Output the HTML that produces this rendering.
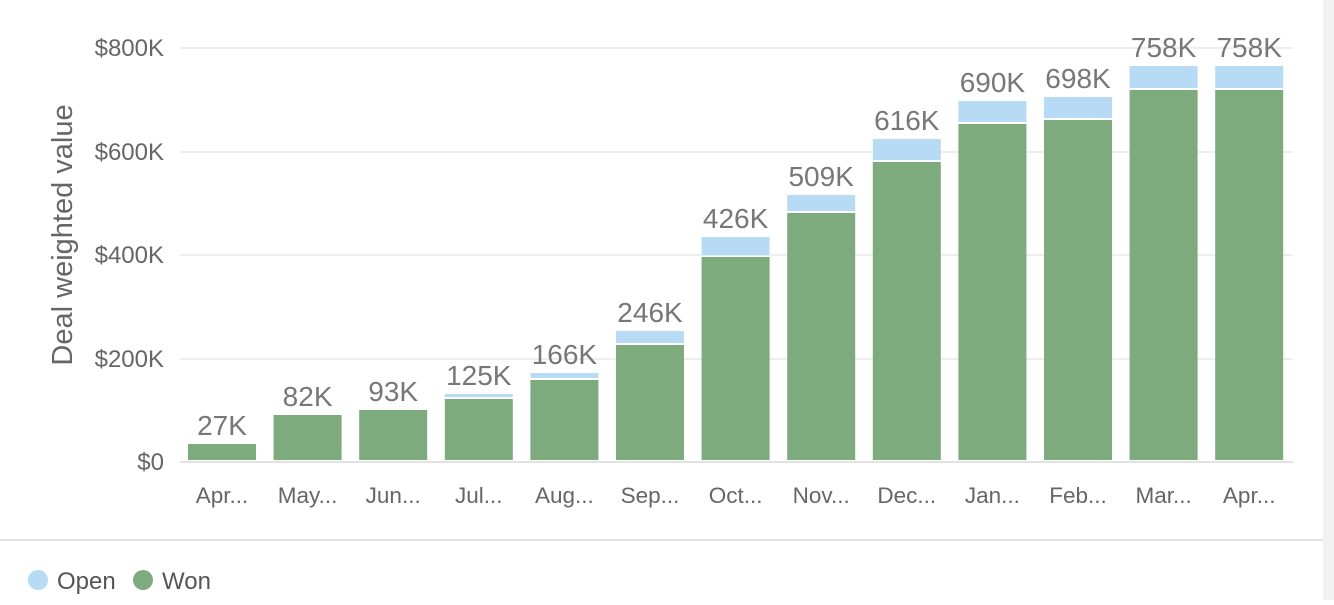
<!DOCTYPE html>
<html><head><style>
body{margin:0;background:#fff;width:1334px;height:600px;overflow:hidden;font-family:"Liberation Sans",sans-serif}
</style></head><body>
<svg width="1334" height="600" xmlns="http://www.w3.org/2000/svg" font-family="Liberation Sans, sans-serif">
<rect x="1323" y="0" width="11" height="600" fill="#f2f2f2"/>
<g stroke="#e8e8e8" stroke-width="1.5">
<line x1="180" x2="1293" y1="48" y2="48"/>
<line x1="180" x2="1293" y1="152" y2="152"/>
<line x1="180" x2="1293" y1="255" y2="255"/>
<line x1="180" x2="1293" y1="359" y2="359"/>
</g>
<line x1="180" x2="1293" y1="462" y2="462" stroke="#e2e2e2" stroke-width="2"/>
<line x1="0" x2="1323" y1="540" y2="540" stroke="#e2e2e2" stroke-width="2"/>
<g fill="#666" font-size="24" text-anchor="end">
<text x="164" y="56">$800K</text>
<text x="164" y="160">$600K</text>
<text x="164" y="263">$400K</text>
<text x="164" y="367">$200K</text>
<text x="164" y="470">$0</text>
</g>
<text transform="translate(72,235) rotate(-90)" fill="#666" font-size="29" text-anchor="middle">Deal weighted value</text>
<g>
<rect x="188" y="444" width="68" height="16" fill="#7dab7d"/>
<rect x="273.6" y="415" width="68" height="45" fill="#7dab7d"/>
<rect x="359.2" y="410" width="68" height="50" fill="#7dab7d"/>
<rect x="444.8" y="394" width="68" height="3" fill="#b7dbf5"/>
<rect x="444.8" y="399" width="68" height="61" fill="#7dab7d"/>
<rect x="530.4" y="373" width="68" height="5" fill="#b7dbf5"/>
<rect x="530.4" y="380" width="68" height="80" fill="#7dab7d"/>
<rect x="616" y="331" width="68" height="12" fill="#b7dbf5"/>
<rect x="616" y="345" width="68" height="115" fill="#7dab7d"/>
<rect x="701.6" y="237" width="68" height="18" fill="#b7dbf5"/>
<rect x="701.6" y="257" width="68" height="203" fill="#7dab7d"/>
<rect x="787.2" y="195" width="68" height="16" fill="#b7dbf5"/>
<rect x="787.2" y="213" width="68" height="247" fill="#7dab7d"/>
<rect x="872.8" y="139" width="68" height="21" fill="#b7dbf5"/>
<rect x="872.8" y="162" width="68" height="298" fill="#7dab7d"/>
<rect x="958.4" y="101" width="68" height="21" fill="#b7dbf5"/>
<rect x="958.4" y="124" width="68" height="336" fill="#7dab7d"/>
<rect x="1044" y="97" width="68" height="21" fill="#b7dbf5"/>
<rect x="1044" y="120" width="68" height="340" fill="#7dab7d"/>
<rect x="1129.6" y="66" width="68" height="22" fill="#b7dbf5"/>
<rect x="1129.6" y="90" width="68" height="370" fill="#7dab7d"/>
<rect x="1215.2" y="66" width="68" height="22" fill="#b7dbf5"/>
<rect x="1215.2" y="90" width="68" height="370" fill="#7dab7d"/>
</g>
<g fill="#666" font-size="22.5" text-anchor="middle">
<text x="222" y="503">Apr...</text>
<text x="307.6" y="503">May...</text>
<text x="393.2" y="503">Jun...</text>
<text x="478.8" y="503">Jul...</text>
<text x="564.4" y="503">Aug...</text>
<text x="650" y="503">Sep...</text>
<text x="735.6" y="503">Oct...</text>
<text x="821.2" y="503">Nov...</text>
<text x="906.8" y="503">Dec...</text>
<text x="992.4" y="503">Jan...</text>
<text x="1078" y="503">Feb...</text>
<text x="1163.6" y="503">Mar...</text>
<text x="1249.2" y="503">Apr...</text>
</g>
<g fill="#777" font-size="28" text-anchor="middle">
<text x="222" y="435">27K</text>
<text x="307.6" y="406">82K</text>
<text x="393.2" y="401">93K</text>
<text x="478.8" y="385">125K</text>
<text x="564.4" y="364">166K</text>
<text x="650" y="322">246K</text>
<text x="735.6" y="228">426K</text>
<text x="821.2" y="186">509K</text>
<text x="906.8" y="130">616K</text>
<text x="992.4" y="92">690K</text>
<text x="1078" y="88">698K</text>
<text x="1163.6" y="57">758K</text>
<text x="1249.2" y="57">758K</text>
</g>
<circle cx="38" cy="580" r="10" fill="#b7dbf5"/>
<text x="57" y="589" fill="#555" font-size="24">Open</text>
<circle cx="143" cy="580" r="10" fill="#7dab7d"/>
<text x="162" y="589" fill="#555" font-size="24">Won</text>
</svg>
</body></html>
